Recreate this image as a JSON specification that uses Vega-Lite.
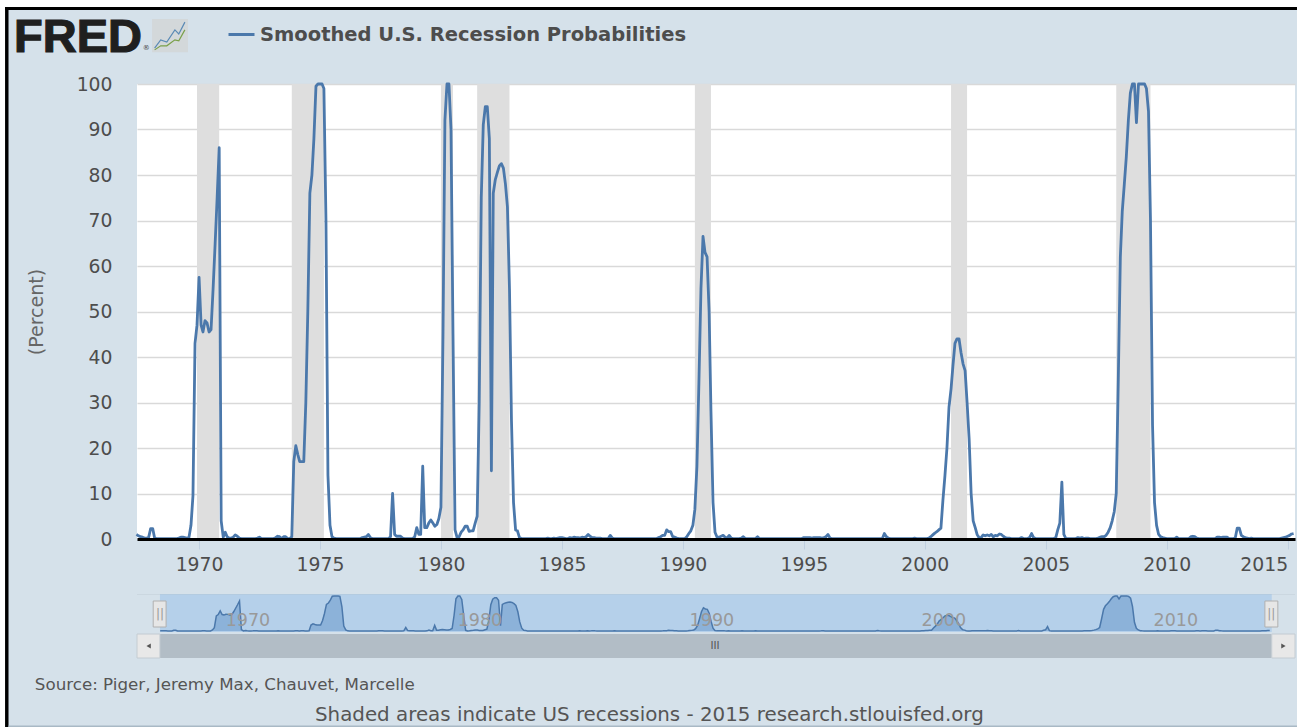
{"$schema":"https://vega.github.io/schema/vega-lite/v6.json","background":"#d5e1ea","padding":0,"config":{"font":"DejaVu Sans"},"bounds":"flush","spacing":55,
"datasets":{"one":[{}],"rec":[
{"date":"1967-06","value":1},{"date":"1967-07","value":0.7},{"date":"1967-08","value":0.5},{"date":"1967-09","value":0.4},{"date":"1967-10","value":0.2},{"date":"1967-11","value":0.2},{"date":"1967-12","value":0.3},
{"date":"1968-01","value":2.3},{"date":"1968-02","value":2.3},{"date":"1968-03","value":0.2},{"date":"1968-04","value":0.1},{"date":"1968-05","value":0.1},{"date":"1968-06","value":0.1},{"date":"1968-07","value":0.1},{"date":"1968-08","value":0.1},{"date":"1968-09","value":0.1},{"date":"1968-10","value":0.1},{"date":"1968-11","value":0.1},{"date":"1968-12","value":0.1},
{"date":"1969-01","value":0.1},{"date":"1969-02","value":0.1},{"date":"1969-03","value":0.2},{"date":"1969-04","value":0.4},{"date":"1969-05","value":0.4},{"date":"1969-06","value":0.3},{"date":"1969-07","value":0.2},{"date":"1969-08","value":0.3},{"date":"1969-09","value":3},{"date":"1969-10","value":9.5},{"date":"1969-11","value":43},{"date":"1969-12","value":47},
{"date":"1970-01","value":57.5},{"date":"1970-02","value":47},{"date":"1970-03","value":45.5},{"date":"1970-04","value":48},{"date":"1970-05","value":47.5},{"date":"1970-06","value":45.5},{"date":"1970-07","value":46},{"date":"1970-08","value":55},{"date":"1970-09","value":65},{"date":"1970-10","value":75},{"date":"1970-11","value":86},{"date":"1970-12","value":4},
{"date":"1971-01","value":0.4},{"date":"1971-02","value":1.5},{"date":"1971-03","value":0.5},{"date":"1971-04","value":0.2},{"date":"1971-05","value":0.2},{"date":"1971-06","value":0.4},{"date":"1971-07","value":0.9},{"date":"1971-08","value":0.6},{"date":"1971-09","value":0.2},{"date":"1971-10","value":0.1},{"date":"1971-11","value":0.1},{"date":"1971-12","value":0.1},
{"date":"1972-01","value":0.1},{"date":"1972-02","value":0.1},{"date":"1972-03","value":0.1},{"date":"1972-04","value":0.1},{"date":"1972-05","value":0.1},{"date":"1972-06","value":0.2},{"date":"1972-07","value":0.4},{"date":"1972-08","value":0.1},{"date":"1972-09","value":0.1},{"date":"1972-10","value":0.1},{"date":"1972-11","value":0.1},{"date":"1972-12","value":0.1},
{"date":"1973-01","value":0.1},{"date":"1973-02","value":0.1},{"date":"1973-03","value":0.3},{"date":"1973-04","value":0.6},{"date":"1973-05","value":0.5},{"date":"1973-06","value":0.1},{"date":"1973-07","value":0.5},{"date":"1973-08","value":0.5},{"date":"1973-09","value":0.1},{"date":"1973-10","value":0.1},{"date":"1973-11","value":0.5},{"date":"1973-12","value":17},
{"date":"1974-01","value":20.5},{"date":"1974-02","value":18.5},{"date":"1974-03","value":17},{"date":"1974-04","value":17},{"date":"1974-05","value":17},{"date":"1974-06","value":30},{"date":"1974-07","value":50},{"date":"1974-08","value":76},{"date":"1974-09","value":80},{"date":"1974-10","value":88},{"date":"1974-11","value":99.5},{"date":"1974-12","value":100},
{"date":"1975-01","value":100},{"date":"1975-02","value":100},{"date":"1975-03","value":99},{"date":"1975-04","value":70},{"date":"1975-05","value":14},{"date":"1975-06","value":3},{"date":"1975-07","value":0.5},{"date":"1975-08","value":0.2},{"date":"1975-09","value":0.1},{"date":"1975-10","value":0.1},{"date":"1975-11","value":0.1},{"date":"1975-12","value":0.1},
{"date":"1976-01","value":0.1},{"date":"1976-02","value":0.1},{"date":"1976-03","value":0.1},{"date":"1976-04","value":0.1},{"date":"1976-05","value":0.1},{"date":"1976-06","value":0.1},{"date":"1976-07","value":0.1},{"date":"1976-08","value":0.1},{"date":"1976-09","value":0.1},{"date":"1976-10","value":0.3},{"date":"1976-11","value":0.4},{"date":"1976-12","value":0.5},
{"date":"1977-01","value":1},{"date":"1977-02","value":0.3},{"date":"1977-03","value":0.1},{"date":"1977-04","value":0.1},{"date":"1977-05","value":0.1},{"date":"1977-06","value":0.1},{"date":"1977-07","value":0.1},{"date":"1977-08","value":0.1},{"date":"1977-09","value":0.1},{"date":"1977-10","value":0.1},{"date":"1977-11","value":0.1},{"date":"1977-12","value":0.5},
{"date":"1978-01","value":10},{"date":"1978-02","value":1},{"date":"1978-03","value":0.6},{"date":"1978-04","value":0.6},{"date":"1978-05","value":0.6},{"date":"1978-06","value":0.2},{"date":"1978-07","value":0.1},{"date":"1978-08","value":0.1},{"date":"1978-09","value":0.1},{"date":"1978-10","value":0.1},{"date":"1978-11","value":0.1},{"date":"1978-12","value":0.5},
{"date":"1979-01","value":2.5},{"date":"1979-02","value":1},{"date":"1979-03","value":1},{"date":"1979-04","value":16},{"date":"1979-05","value":2.5},{"date":"1979-06","value":2.5},{"date":"1979-07","value":3.5},{"date":"1979-08","value":4.2},{"date":"1979-09","value":3.5},{"date":"1979-10","value":2.8},{"date":"1979-11","value":3.2},{"date":"1979-12","value":4.5},
{"date":"1980-01","value":7},{"date":"1980-02","value":45},{"date":"1980-03","value":92},{"date":"1980-04","value":100},{"date":"1980-05","value":100},{"date":"1980-06","value":90},{"date":"1980-07","value":45},{"date":"1980-08","value":2},{"date":"1980-09","value":0.3},{"date":"1980-10","value":0.5},{"date":"1980-11","value":1.5},{"date":"1980-12","value":2},
{"date":"1981-01","value":2.8},{"date":"1981-02","value":2.8},{"date":"1981-03","value":1.7},{"date":"1981-04","value":1.8},{"date":"1981-05","value":1.8},{"date":"1981-06","value":3.5},{"date":"1981-07","value":5},{"date":"1981-08","value":30},{"date":"1981-09","value":75},{"date":"1981-10","value":91},{"date":"1981-11","value":95},{"date":"1981-12","value":95},
{"date":"1982-01","value":88},{"date":"1982-02","value":15},{"date":"1982-03","value":76},{"date":"1982-04","value":79},{"date":"1982-05","value":80.5},{"date":"1982-06","value":82},{"date":"1982-07","value":82.5},{"date":"1982-08","value":81.5},{"date":"1982-09","value":78},{"date":"1982-10","value":73},{"date":"1982-11","value":55},{"date":"1982-12","value":26},
{"date":"1983-01","value":8},{"date":"1983-02","value":2},{"date":"1983-03","value":1.8},{"date":"1983-04","value":0.3},{"date":"1983-05","value":0.1},{"date":"1983-06","value":0.1},{"date":"1983-07","value":0.1},{"date":"1983-08","value":0.1},{"date":"1983-09","value":0.1},{"date":"1983-10","value":0.1},{"date":"1983-11","value":0.1},{"date":"1983-12","value":0.1},
{"date":"1984-01","value":0.1},{"date":"1984-02","value":0.1},{"date":"1984-03","value":0.1},{"date":"1984-04","value":0.1},{"date":"1984-05","value":0.1},{"date":"1984-06","value":0.2},{"date":"1984-07","value":0.1},{"date":"1984-08","value":0.1},{"date":"1984-09","value":0.2},{"date":"1984-10","value":0.1},{"date":"1984-11","value":0.2},{"date":"1984-12","value":0.3},
{"date":"1985-01","value":0.3},{"date":"1985-02","value":0.2},{"date":"1985-03","value":0.1},{"date":"1985-04","value":0.1},{"date":"1985-05","value":0.3},{"date":"1985-06","value":0.2},{"date":"1985-07","value":0.4},{"date":"1985-08","value":0.3},{"date":"1985-09","value":0.3},{"date":"1985-10","value":0.2},{"date":"1985-11","value":0.4},{"date":"1985-12","value":0.3},
{"date":"1986-01","value":0.5},{"date":"1986-02","value":1},{"date":"1986-03","value":0.6},{"date":"1986-04","value":0.3},{"date":"1986-05","value":0.3},{"date":"1986-06","value":0.2},{"date":"1986-07","value":0.2},{"date":"1986-08","value":0.2},{"date":"1986-09","value":0.1},{"date":"1986-10","value":0.1},{"date":"1986-11","value":0.1},{"date":"1986-12","value":0.1},
{"date":"1987-01","value":0.8},{"date":"1987-02","value":0.2},{"date":"1987-03","value":0.1},{"date":"1987-04","value":0.1},{"date":"1987-05","value":0.1},{"date":"1987-06","value":0.1},{"date":"1987-07","value":0.1},{"date":"1987-08","value":0.1},{"date":"1987-09","value":0.1},{"date":"1987-10","value":0.1},{"date":"1987-11","value":0.1},{"date":"1987-12","value":0.1},
{"date":"1988-01","value":0.1},{"date":"1988-02","value":0.1},{"date":"1988-03","value":0.1},{"date":"1988-04","value":0.1},{"date":"1988-05","value":0.1},{"date":"1988-06","value":0.1},{"date":"1988-07","value":0.1},{"date":"1988-08","value":0.1},{"date":"1988-09","value":0.1},{"date":"1988-10","value":0.1},{"date":"1988-11","value":0.1},{"date":"1988-12","value":0.1},
{"date":"1989-01","value":0.3},{"date":"1989-02","value":0.5},{"date":"1989-03","value":0.8},{"date":"1989-04","value":0.8},{"date":"1989-05","value":2},{"date":"1989-06","value":1.6},{"date":"1989-07","value":1.6},{"date":"1989-08","value":0.5},{"date":"1989-09","value":0.4},{"date":"1989-10","value":0.2},{"date":"1989-11","value":0.1},{"date":"1989-12","value":0.1},
{"date":"1990-01","value":0.1},{"date":"1990-02","value":0.1},{"date":"1990-03","value":0.5},{"date":"1990-04","value":1.2},{"date":"1990-05","value":1.8},{"date":"1990-06","value":3},{"date":"1990-07","value":6.5},{"date":"1990-08","value":16},{"date":"1990-09","value":35},{"date":"1990-10","value":55},{"date":"1990-11","value":66.5},{"date":"1990-12","value":63},
{"date":"1991-01","value":62},{"date":"1991-02","value":50},{"date":"1991-03","value":28},{"date":"1991-04","value":8},{"date":"1991-05","value":1.5},{"date":"1991-06","value":0.4},{"date":"1991-07","value":0.4},{"date":"1991-08","value":0.6},{"date":"1991-09","value":0.8},{"date":"1991-10","value":0.4},{"date":"1991-11","value":0.2},{"date":"1991-12","value":0.8},
{"date":"1992-01","value":0.2},{"date":"1992-02","value":0.1},{"date":"1992-03","value":0.1},{"date":"1992-04","value":0.1},{"date":"1992-05","value":0.1},{"date":"1992-06","value":0.2},{"date":"1992-07","value":0.5},{"date":"1992-08","value":0.1},{"date":"1992-09","value":0.1},{"date":"1992-10","value":0.1},{"date":"1992-11","value":0.1},{"date":"1992-12","value":0.1},
{"date":"1993-01","value":0.1},{"date":"1993-02","value":0.5},{"date":"1993-03","value":0.1},{"date":"1993-04","value":0.1},{"date":"1993-05","value":0.1},{"date":"1993-06","value":0.1},{"date":"1993-07","value":0.1},{"date":"1993-08","value":0.1},{"date":"1993-09","value":0.1},{"date":"1993-10","value":0.1},{"date":"1993-11","value":0.1},{"date":"1993-12","value":0.1},
{"date":"1994-01","value":0.1},{"date":"1994-02","value":0.1},{"date":"1994-03","value":0.1},{"date":"1994-04","value":0.1},{"date":"1994-05","value":0.1},{"date":"1994-06","value":0.1},{"date":"1994-07","value":0.1},{"date":"1994-08","value":0.1},{"date":"1994-09","value":0.1},{"date":"1994-10","value":0.1},{"date":"1994-11","value":0.1},{"date":"1994-12","value":0.1},
{"date":"1995-01","value":0.3},{"date":"1995-02","value":0.3},{"date":"1995-03","value":0.3},{"date":"1995-04","value":0.3},{"date":"1995-05","value":0.2},{"date":"1995-06","value":0.3},{"date":"1995-07","value":0.3},{"date":"1995-08","value":0.3},{"date":"1995-09","value":0.3},{"date":"1995-10","value":0.2},{"date":"1995-11","value":0.3},{"date":"1995-12","value":0.5},
{"date":"1996-01","value":1},{"date":"1996-02","value":0.2},{"date":"1996-03","value":0.1},{"date":"1996-04","value":0.1},{"date":"1996-05","value":0.1},{"date":"1996-06","value":0.1},{"date":"1996-07","value":0.1},{"date":"1996-08","value":0.1},{"date":"1996-09","value":0.1},{"date":"1996-10","value":0.1},{"date":"1996-11","value":0.1},{"date":"1996-12","value":0.1},
{"date":"1997-01","value":0.1},{"date":"1997-02","value":0.1},{"date":"1997-03","value":0.1},{"date":"1997-04","value":0.1},{"date":"1997-05","value":0.1},{"date":"1997-06","value":0.1},{"date":"1997-07","value":0.1},{"date":"1997-08","value":0.1},{"date":"1997-09","value":0.1},{"date":"1997-10","value":0.1},{"date":"1997-11","value":0.1},{"date":"1997-12","value":0.1},
{"date":"1998-01","value":0.1},{"date":"1998-02","value":0.1},{"date":"1998-03","value":0.1},{"date":"1998-04","value":0.1},{"date":"1998-05","value":1.2},{"date":"1998-06","value":0.5},{"date":"1998-07","value":0.2},{"date":"1998-08","value":0.1},{"date":"1998-09","value":0.1},{"date":"1998-10","value":0.1},{"date":"1998-11","value":0.1},{"date":"1998-12","value":0.1},
{"date":"1999-01","value":0.1},{"date":"1999-02","value":0.1},{"date":"1999-03","value":0.1},{"date":"1999-04","value":0.1},{"date":"1999-05","value":0.1},{"date":"1999-06","value":0.1},{"date":"1999-07","value":0.1},{"date":"1999-08","value":0.2},{"date":"1999-09","value":0.1},{"date":"1999-10","value":0.1},{"date":"1999-11","value":0.1},{"date":"1999-12","value":0.1},
{"date":"2000-01","value":0.1},{"date":"2000-02","value":0.1},{"date":"2000-03","value":0.2},{"date":"2000-04","value":0.5},{"date":"2000-05","value":0.9},{"date":"2000-06","value":1.3},{"date":"2000-07","value":1.6},{"date":"2000-08","value":2},{"date":"2000-09","value":2.4},{"date":"2000-10","value":8.5},{"date":"2000-11","value":14},{"date":"2000-12","value":20},
{"date":"2001-01","value":29},{"date":"2001-02","value":33},{"date":"2001-03","value":38},{"date":"2001-04","value":43},{"date":"2001-05","value":44},{"date":"2001-06","value":44},{"date":"2001-07","value":41},{"date":"2001-08","value":38.5},{"date":"2001-09","value":37},{"date":"2001-10","value":30},{"date":"2001-11","value":22},{"date":"2001-12","value":10},
{"date":"2002-01","value":4},{"date":"2002-02","value":2.5},{"date":"2002-03","value":1},{"date":"2002-04","value":0.3},{"date":"2002-05","value":0.3},{"date":"2002-06","value":0.9},{"date":"2002-07","value":0.7},{"date":"2002-08","value":0.9},{"date":"2002-09","value":0.7},{"date":"2002-10","value":1},{"date":"2002-11","value":0.5},{"date":"2002-12","value":0.8},
{"date":"2003-01","value":0.7},{"date":"2003-02","value":1.1},{"date":"2003-03","value":1},{"date":"2003-04","value":0.6},{"date":"2003-05","value":0.3},{"date":"2003-06","value":0.2},{"date":"2003-07","value":0.2},{"date":"2003-08","value":0.1},{"date":"2003-09","value":0.1},{"date":"2003-10","value":0.1},{"date":"2003-11","value":0.1},{"date":"2003-12","value":0.1},
{"date":"2004-01","value":0.3},{"date":"2004-02","value":0.1},{"date":"2004-03","value":0.1},{"date":"2004-04","value":0.1},{"date":"2004-05","value":0.3},{"date":"2004-06","value":1.2},{"date":"2004-07","value":0.3},{"date":"2004-08","value":0.1},{"date":"2004-09","value":0.1},{"date":"2004-10","value":0.1},{"date":"2004-11","value":0.1},{"date":"2004-12","value":0.1},
{"date":"2005-01","value":0.1},{"date":"2005-02","value":0.1},{"date":"2005-03","value":0.1},{"date":"2005-04","value":0.1},{"date":"2005-05","value":0.1},{"date":"2005-06","value":0.3},{"date":"2005-07","value":2},{"date":"2005-08","value":3.5},{"date":"2005-09","value":12.5},{"date":"2005-10","value":1},{"date":"2005-11","value":0.1},{"date":"2005-12","value":0.1},
{"date":"2006-01","value":0.1},{"date":"2006-02","value":0.1},{"date":"2006-03","value":0.1},{"date":"2006-04","value":0.1},{"date":"2006-05","value":0.3},{"date":"2006-06","value":0.2},{"date":"2006-07","value":0.3},{"date":"2006-08","value":0.1},{"date":"2006-09","value":0.2},{"date":"2006-10","value":0.2},{"date":"2006-11","value":0.1},{"date":"2006-12","value":0.1},
{"date":"2007-01","value":0.1},{"date":"2007-02","value":0.1},{"date":"2007-03","value":0.2},{"date":"2007-04","value":0.4},{"date":"2007-05","value":0.5},{"date":"2007-06","value":0.5},{"date":"2007-07","value":0.8},{"date":"2007-08","value":1.5},{"date":"2007-09","value":2.5},{"date":"2007-10","value":4},{"date":"2007-11","value":6},{"date":"2007-12","value":10},
{"date":"2008-01","value":35},{"date":"2008-02","value":62},{"date":"2008-03","value":72},{"date":"2008-04","value":78},{"date":"2008-05","value":84},{"date":"2008-06","value":92},{"date":"2008-07","value":98},{"date":"2008-08","value":100},{"date":"2008-09","value":100},{"date":"2008-10","value":91.5},{"date":"2008-11","value":100},{"date":"2008-12","value":100},
{"date":"2009-01","value":100},{"date":"2009-02","value":100},{"date":"2009-03","value":99},{"date":"2009-04","value":94},{"date":"2009-05","value":70},{"date":"2009-06","value":25},{"date":"2009-07","value":8},{"date":"2009-08","value":3},{"date":"2009-09","value":1},{"date":"2009-10","value":0.5},{"date":"2009-11","value":0.3},{"date":"2009-12","value":0.2},
{"date":"2010-01","value":0.1},{"date":"2010-02","value":0.1},{"date":"2010-03","value":0.1},{"date":"2010-04","value":0.1},{"date":"2010-05","value":0.1},{"date":"2010-06","value":0.4},{"date":"2010-07","value":0.1},{"date":"2010-08","value":0.1},{"date":"2010-09","value":0.1},{"date":"2010-10","value":0.1},{"date":"2010-11","value":0.1},{"date":"2010-12","value":0.1},
{"date":"2011-01","value":0.5},{"date":"2011-02","value":0.6},{"date":"2011-03","value":0.5},{"date":"2011-04","value":0.2},{"date":"2011-05","value":0.1},{"date":"2011-06","value":0.1},{"date":"2011-07","value":0.1},{"date":"2011-08","value":0.1},{"date":"2011-09","value":0.1},{"date":"2011-10","value":0.1},{"date":"2011-11","value":0.1},{"date":"2011-12","value":0.1},
{"date":"2012-01","value":0.1},{"date":"2012-02","value":0.4},{"date":"2012-03","value":0.4},{"date":"2012-04","value":0.3},{"date":"2012-05","value":0.4},{"date":"2012-06","value":0.4},{"date":"2012-07","value":0.4},{"date":"2012-08","value":0.1},{"date":"2012-09","value":0.1},{"date":"2012-10","value":0.1},{"date":"2012-11","value":0.2},{"date":"2012-12","value":2.4},
{"date":"2013-01","value":2.4},{"date":"2013-02","value":0.8},{"date":"2013-03","value":0.5},{"date":"2013-04","value":0.3},{"date":"2013-05","value":0.2},{"date":"2013-06","value":0.1},{"date":"2013-07","value":0.2},{"date":"2013-08","value":0.1},{"date":"2013-09","value":0.1},{"date":"2013-10","value":0.1},{"date":"2013-11","value":0.1},{"date":"2013-12","value":0.1},
{"date":"2014-01","value":0.1},{"date":"2014-02","value":0.1},{"date":"2014-03","value":0.1},{"date":"2014-04","value":0.1},{"date":"2014-05","value":0.1},{"date":"2014-06","value":0.1},{"date":"2014-07","value":0.1},{"date":"2014-08","value":0.1},{"date":"2014-09","value":0.1},{"date":"2014-10","value":0.2},{"date":"2014-11","value":0.3},{"date":"2014-12","value":0.4},
{"date":"2015-01","value":0.6},{"date":"2015-02","value":0.8},{"date":"2015-03","value":1.1},{"date":"2015-04","value":1.2}
],
"recessions":[{"start":"1969-12","end":"1970-11"},{"start":"1973-11","end":"1975-03"},{"start":"1980-01","end":"1980-07"},{"start":"1981-07","end":"1982-11"},{"start":"1990-07","end":"1991-03"},{"start":"2001-02","end":"2001-10"},{"start":"2007-12","end":"2009-05"}]},
"vconcat":[
{"width":1158,"height":455,"view":{"fill":"#ffffff","stroke":null},
"layer":[
{"data":{"name":"recessions"},"mark":{"type":"rect","color":"#dedede"},"encoding":{"x":{"field":"start","type":"temporal","scale":{"domain":[{"year":1967,"month":6,"date":9},{"year":2015,"month":4,"date":22}]},"axis":{"title":null,"format":"%Y","tickCount":{"interval":"year","step":5},"grid":false,"domainColor":"#000000","domainWidth":3,"tickColor":"#c0d0e0","tickSize":10,"tickWidth":1,"labelFontSize":18.8,"labelColor":"#4d4d4d","labelPadding":6,"labelFlush":10,"labelOverlap":false,"zindex":1}},"x2":{"field":"end"}}},
{"data":{"name":"rec"},"mark":{"type":"line","strokeWidth":2.8,"strokeJoin":"round","interpolate":"linear"},"encoding":{"x":{"field":"date","type":"temporal"},"y":{"field":"value","type":"quantitative","scale":{"domain":[0,100],"nice":false},"axis":{"title":"(Percent)","titleFontSize":19,"titleFontWeight":"normal","titleColor":"#666666","titlePadding":30,"values":[0,10,20,30,40,50,60,70,80,90,100],"grid":true,"gridColor":"#d9d9d9","gridWidth":1.5,"domain":false,"ticks":false,"labelFontSize":18.8,"labelColor":"#4d4d4d","labelPadding":25}},"color":{"datum":"Smoothed U.S. Recession Probabilities","type":"nominal","scale":{"range":["#4b78ab"]},"legend":{"orient":"none","legendX":90,"legendY":-64,"title":null,"symbolType":"stroke","symbolStrokeWidth":3,"symbolSize":676,"labelFontSize":19.5,"labelFontWeight":"bold","labelColor":"#4d4d4d","labelLimit":700}}}},
{"data":{"name":"one"},"mark":{"type":"rect","color":"#ffffff"},"encoding":{"x":{"datum":{"year":1961,"month":10,"date":10},"type":"temporal"},"x2":{"datum":{"year":2015,"month":5,"date":22}},"y":{"datum":118.46,"type":"quantitative"},"y2":{"datum":116.92}}},
{"data":{"name":"one"},"mark":{"type":"rect","color":"#ffffff"},"encoding":{"x":{"datum":{"year":1961,"month":10,"date":10},"type":"temporal"},"x2":{"datum":{"year":1961,"month":12,"date":25}},"y":{"datum":118.46,"type":"quantitative"},"y2":{"datum":-41.32}}},
{"data":{"name":"one"},"mark":{"type":"rect","color":"#000000"},"encoding":{"x":{"datum":{"year":1961,"month":12,"date":25},"type":"temporal"},"x2":{"datum":{"year":2015,"month":5,"date":22}},"y":{"datum":116.92,"type":"quantitative"},"y2":{"datum":116.26}}},
{"data":{"name":"one"},"mark":{"type":"rect","color":"#000000"},"encoding":{"x":{"datum":{"year":1961,"month":12,"date":25},"type":"temporal"},"x2":{"datum":{"year":1962,"month":2,"date":15}},"y":{"datum":116.92,"type":"quantitative"},"y2":{"datum":-41.32}}},
{"data":{"name":"one"},"mark":{"type":"rect","color":"#a9b9c5"},"encoding":{"x":{"datum":{"year":1962,"month":2,"date":15},"type":"temporal"},"x2":{"datum":{"year":2015,"month":5,"date":22}},"y":{"datum":-41,"type":"quantitative"},"y2":{"datum":-41.32}}},
{"data":{"name":"one"},"mark":{"type":"rect","color":"#d3d8da"},"encoding":{"x":{"datum":{"year":1968,"month":1,"date":22},"type":"temporal"},"x2":{"datum":{"year":1969,"month":7,"date":18}},"y":{"datum":114.3,"type":"quantitative"},"y2":{"datum":107}}},
{"data":{"values":[{"date":"1968-03","value":107.9},{"date":"1968-06","value":109.7},{"date":"1968-09","value":109.2},{"date":"1969-01","value":111.9},{"date":"1969-03","value":111},{"date":"1969-06","value":113.6}]},"mark":{"type":"line","color":"#5a8ab5","strokeWidth":1.2},"encoding":{"x":{"field":"date","type":"temporal"},"y":{"field":"value","type":"quantitative"}}},
{"data":{"values":[{"date":"1968-03","value":107.5},{"date":"1968-06","value":108.4},{"date":"1968-09","value":108.4},{"date":"1969-01","value":109.7},{"date":"1969-03","value":109.5},{"date":"1969-06","value":111.9}]},"mark":{"type":"line","color":"#7aa04a","strokeWidth":1.2},"encoding":{"x":{"field":"date","type":"temporal"},"y":{"field":"value","type":"quantitative"}}},
{"data":{"values":[{"label":"FRED"}]},"mark":{"type":"text","font":"Liberation Sans","fontWeight":"bold","fontSize":47,"align":"left","baseline":"middle","color":"#1f1f1f","stroke":"#1f1f1f","strokeWidth":1.2},"encoding":{"x":{"datum":{"year":1962,"month":5,"date":10},"type":"temporal"},"y":{"datum":110.2,"type":"quantitative"},"text":{"field":"label"}}},
{"data":{"values":[{"label":"®"}]},"mark":{"type":"text","fontSize":7,"align":"left","baseline":"middle","color":"#444444"},"encoding":{"x":{"datum":{"year":1967,"month":9,"date":5},"type":"temporal"},"y":{"datum":107.9,"type":"quantitative"},"text":{"field":"label"}}},
{"data":{"values":[{"label":"Source: Piger, Jeremy Max, Chauvet, Marcelle"}]},"mark":{"type":"text","fontSize":16.7,"align":"left","baseline":"middle","color":"#555555"},"encoding":{"x":{"datum":{"year":1963,"month":3,"date":20},"type":"temporal"},"y":{"datum":-32.09,"type":"quantitative"},"text":{"field":"label"}}},
{"data":{"values":[{"label":"Shaded areas indicate US recessions - 2015 research.stlouisfed.org"}]},"mark":{"type":"text","fontSize":19.85,"align":"left","baseline":"middle","color":"#555555"},"encoding":{"x":{"datum":{"year":1974,"month":10,"date":17},"type":"temporal"},"y":{"datum":-38.6,"type":"quantitative"},"text":{"field":"label"}}}
]},
{"width":1158,"height":64,"view":{"stroke":null},
"layer":[
{"data":{"name":"one"},"mark":{"type":"rect","color":"#b5d0ea"},"encoding":{"x":{"datum":{"year":1967,"month":5,"date":28},"type":"temporal","scale":{"domain":[{"year":1966,"month":6,"date":1},{"year":2016,"month":5,"date":3}]},"axis":{"title":null,"format":"%Y","tickCount":{"interval":"year","step":10},"grid":false,"domain":false,"ticks":false,"labelFontSize":17.5,"labelColor":"#999999","labelAlign":"left","labelPadding":-47,"labelOffset":5,"labelFlush":false,"labelOverlap":false,"zindex":1}},"x2":{"datum":{"year":2015,"month":5,"date":3}},"y":{"datum":105.7,"type":"quantitative","scale":{"domain":[-77.1,105.7],"nice":false,"zero":false},"axis":null},"y2":{"datum":-2.9}}},
{"data":{"name":"one"},"mark":{"type":"rect","color":"#b0bac4"},"encoding":{"x":{"datum":{"year":1966,"month":6,"date":1},"type":"temporal"},"x2":{"datum":{"year":2016,"month":5,"date":3}},"y":{"datum":105.7,"type":"quantitative"},"y2":{"datum":104.9}}},
{"data":{"name":"rec"},"mark":{"type":"area","color":"#7ba5d1","line":{"color":"#4b78ab","strokeWidth":1.5}},"encoding":{"x":{"field":"date","type":"temporal"},"y":{"field":"value","type":"quantitative"}}},
{"data":{"name":"one"},"mark":{"type":"rect","color":"#b2bdc6"},"encoding":{"x":{"datum":{"year":1967,"month":5,"date":28},"type":"temporal"},"x2":{"datum":{"year":2015,"month":5,"date":3}},"y":{"datum":-8.6,"type":"quantitative"},"y2":{"datum":-77.1}}},
{"data":{"name":"one"},"mark":{"type":"rect","color":"#e8e8e8","stroke":"#c4ccd2"},"encoding":{"x":{"datum":{"year":1966,"month":6,"date":1},"type":"temporal"},"x2":{"datum":{"year":1967,"month":5,"date":28}},"y":{"datum":-8.6,"type":"quantitative"},"y2":{"datum":-77.1}}},
{"data":{"name":"one"},"mark":{"type":"rect","color":"#e8e8e8","stroke":"#c4ccd2"},"encoding":{"x":{"datum":{"year":2015,"month":5,"date":3},"type":"temporal"},"x2":{"datum":{"year":2016,"month":5,"date":3}},"y":{"datum":-8.6,"type":"quantitative"},"y2":{"datum":-77.1}}},
{"data":{"name":"one"},"mark":{"type":"point","shape":"triangle-left","filled":true,"size":26,"color":"#555555","opacity":1},"encoding":{"x":{"datum":{"year":1966,"month":12,"date":1},"type":"temporal"},"y":{"datum":-42.9,"type":"quantitative"}}},
{"data":{"name":"one"},"mark":{"type":"point","shape":"triangle-right","filled":true,"size":26,"color":"#555555","opacity":1},"encoding":{"x":{"datum":{"year":2015,"month":11,"date":3},"type":"temporal"},"y":{"datum":-42.9,"type":"quantitative"}}},
{"data":{"name":"one"},"mark":{"type":"rect","color":"#e6e6e6","stroke":"#b0b0b0"},"encoding":{"x":{"datum":{"year":1967,"month":2,"date":11},"type":"temporal"},"x2":{"datum":{"year":1967,"month":9,"date":2}},"y":{"datum":85.7,"type":"quantitative"},"y2":{"datum":11.4}}},
{"data":{"name":"one"},"mark":{"type":"rect","color":"#e6e6e6","stroke":"#b0b0b0"},"encoding":{"x":{"datum":{"year":2015,"month":1,"date":15},"type":"temporal"},"x2":{"datum":{"year":2015,"month":8,"date":7}},"y":{"datum":85.7,"type":"quantitative"},"y2":{"datum":11.4}}},
{"data":{"values":[{"label":"||"}]},"mark":{"type":"text","fontSize":12,"color":"#999999","align":"center","baseline":"middle"},"encoding":{"x":{"datum":{"year":1967,"month":5,"date":28},"type":"temporal"},"y":{"datum":48.6,"type":"quantitative"},"text":{"field":"label"}}},
{"data":{"values":[{"label":"||"}]},"mark":{"type":"text","fontSize":12,"color":"#999999","align":"center","baseline":"middle"},"encoding":{"x":{"datum":{"year":2015,"month":4,"date":26},"type":"temporal"},"y":{"datum":48.6,"type":"quantitative"},"text":{"field":"label"}}},
{"data":{"values":[{"label":"III"}]},"mark":{"type":"text","fontSize":11,"font":"Liberation Sans","color":"#555555","align":"center","baseline":"middle"},"encoding":{"x":{"datum":{"year":1991,"month":5,"date":3},"type":"temporal"},"y":{"datum":-42.9,"type":"quantitative"},"text":{"field":"label"}}}
]}
],
"resolve":{"scale":{"x":"independent","y":"independent","color":"independent"}}}
